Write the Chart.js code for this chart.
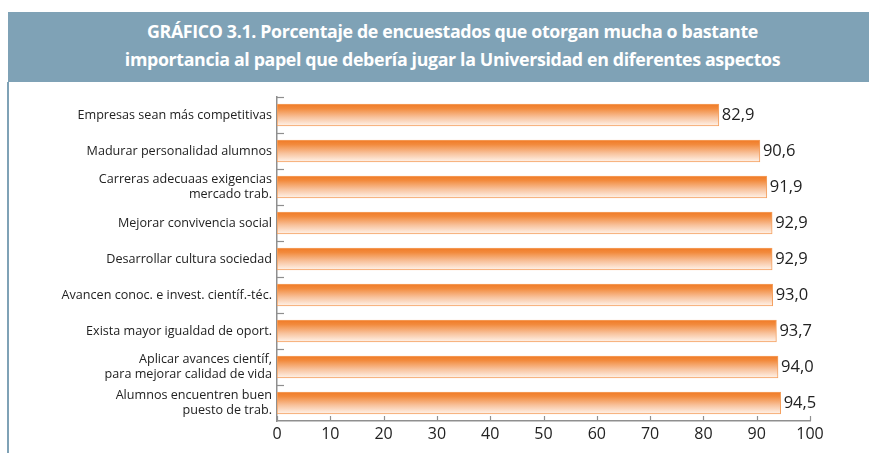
<!DOCTYPE html>
<html>
<head>
<meta charset="utf-8">
<script src="https://cdn.jsdelivr.net/npm/chart.js@4/dist/chart.umd.min.js"></script>
<style>
  html, body { margin: 0; padding: 0; background: #fff; }
  #wrap { position: relative; width: 869px; height: 453px; overflow: hidden; }
  #title {
    position: absolute; left: 8px; top: 12px; right: 0; height: 70px;
    background: #7fa2b6; color: #fff;
    font-family: "Open Sans", sans-serif; font-weight: bold; font-size: 17.8px;
    line-height: 28px; text-align: center; padding: 5px 0 0 28px; box-sizing: border-box;
    letter-spacing: -0.35px;
  }
  #side { position: absolute; left: 7px; top: 82px; width: 2px; bottom: 0; background: #7fa2b6; }
  canvas { position: absolute; left: 0; top: 0; }
</style>
</head>
<body>
<div id="wrap">
  <div id="title">GRÁFICO 3.1. Porcentaje de encuestados que otorgan mucha o bastante<br>importancia al papel que debería jugar la Universidad en diferentes aspectos</div>
  <div id="side"></div>
  <canvas id="chart" width="869" height="453"></canvas>
</div>
<script>
const categories = [
  'Empresas sean más competitivas',
  'Madurar personalidad alumnos',
  ['Carreras adecuaas exigencias', 'mercado trab.'],
  'Mejorar convivencia social',
  'Desarrollar cultura sociedad',
  'Avancen conoc. e invest. científ.-téc.',
  'Exista mayor igualdad de oport.',
  ['Aplicar avances científ,', 'para mejorar calidad de vida'],
  ['Alumnos encuentren buen', 'puesto de trab.']
];
const values = [82.9, 90.6, 91.9, 92.9, 92.9, 93.0, 93.7, 94.0, 94.5];
const xTicks = [0, 10, 20, 30, 40, 50, 60, 70, 80, 90, 100];

const BAR_H = 22;
const AXIS_GREY = '#8f8f8f';

function makeGradient(ctx, top, bottom) {
  const g = ctx.createLinearGradient(0, top, 0, bottom);
  g.addColorStop(0, '#f07a26');
  g.addColorStop(0.2, '#f28a3c');
  g.addColorStop(0.6, '#f8c29c');
  g.addColorStop(1, '#fff4ec');
  return g;
}

// gradient per bar, value labels at the bar ends, inward ticks on both axes
const extras = {
  id: 'extras',
  beforeDatasetsDraw(chart) {
    const meta = chart.getDatasetMeta(0);
    meta.data.forEach(bar => {
      const top = bar.y - bar.height / 2;
      bar.options = Object.assign({}, bar.options, {
        backgroundColor: makeGradient(chart.ctx, top, top + bar.height)
      });
    });
  },
  afterDatasetsDraw(chart) {
    const ctx = chart.ctx;
    const meta = chart.getDatasetMeta(0);
    ctx.save();
    ctx.font = '16.5px "Open Sans", sans-serif';
    ctx.fillStyle = '#222';
    ctx.textBaseline = 'middle';
    ctx.textAlign = 'left';
    meta.data.forEach((bar, i) => {
      ctx.fillText(values[i].toFixed(1).replace('.', ','), bar.x + 3, bar.y);
    });

    const y = chart.scales.y;
    const x = chart.scales.x;
    const step = y.getPixelForValue(1) - y.getPixelForValue(0);
    ctx.strokeStyle = AXIS_GREY;
    ctx.lineWidth = 1.2;
    for (let i = 0; i < categories.length; i++) {
      const py = Math.round(y.getPixelForValue(i) - step / 2) + 0.5;
      ctx.beginPath();
      ctx.moveTo(y.right, py);
      ctx.lineTo(y.right + 7, py);
      ctx.stroke();
    }
    xTicks.forEach(v => {
      const px = Math.round(x.getPixelForValue(v)) + 0.5;
      ctx.beginPath();
      ctx.moveTo(px, x.top);
      ctx.lineTo(px, x.top - 5);
      ctx.stroke();
    });
    ctx.restore();
  }
};

new Chart(document.getElementById('chart'), {
  type: 'bar',
  data: {
    labels: categories,
    datasets: [{
      data: values,
      backgroundColor: '#f28b3e',
      borderColor: '#f4a05f',
      borderWidth: 1,
      borderSkipped: false,
      barThickness: BAR_H
    }]
  },
  options: {
    indexAxis: 'y',
    responsive: false,
    animation: false,
    layout: { padding: { top: 97, right: 59, left: 0, bottom: 0 } },
    plugins: { legend: { display: false }, tooltip: { enabled: false } },
    scales: {
      x: {
        min: 0, max: 100,
        afterBuildTicks(scale) { scale.ticks = xTicks.map(v => ({ value: v })); },
        afterFit(scale) { scale.height = 32; },
        grid: { display: false, drawTicks: false },
        border: { display: true, color: AXIS_GREY, width: 1.5 },
        ticks: { color: '#222', font: { family: 'Open Sans', size: 16 }, padding: 4 }
      },
      y: {
        afterFit(scale) { scale.width = 277; },
        grid: { display: false, drawTicks: false },
        border: { display: true, color: AXIS_GREY, width: 1.5 },
        ticks: { color: '#222', font: { family: 'Open Sans', size: 12.6, lineHeight: 1.25 }, padding: 5 }
      }
    }
  },
  plugins: [extras]
});
</script>
</body>
</html>
